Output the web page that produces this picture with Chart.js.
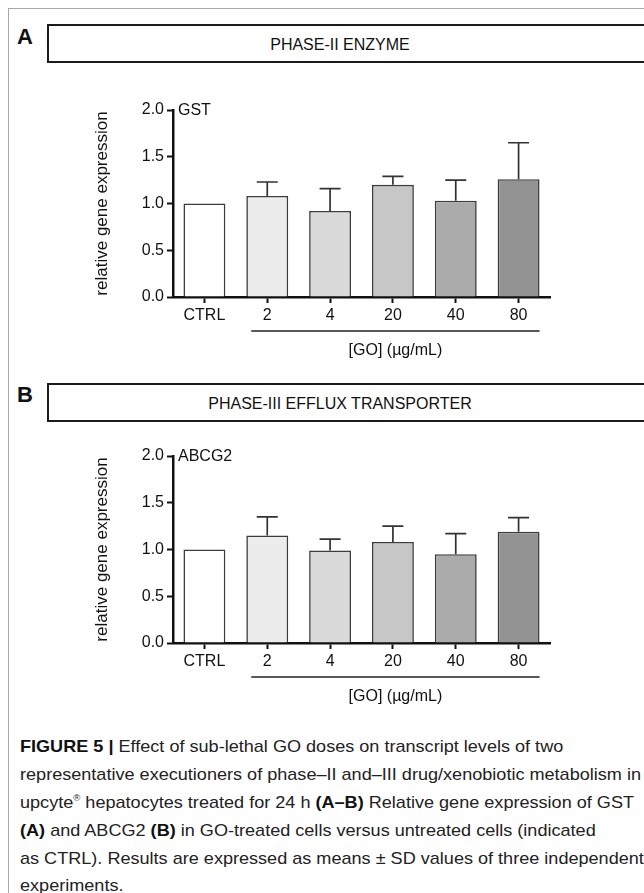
<!DOCTYPE html>
<html><head><meta charset="utf-8">
<script src="https://cdn.jsdelivr.net/npm/chart.js@4.4.1/dist/chart.umd.min.js"></script>
<style>
html,body{margin:0;padding:0;background:#fff;}
#page{position:relative;width:644px;height:893px;overflow:hidden;background:#fff;font-family:"Liberation Sans",Arial,Helvetica,sans-serif;color:#111;}
.frame{position:absolute;left:8px;top:8px;width:700px;height:900px;border-top:1.5px solid #a8a8a8;border-left:1.5px solid #a8a8a8;}
.plabel{position:absolute;font-weight:bold;font-size:22px;line-height:22px;}
.hbox{position:absolute;left:47px;width:640px;height:35px;border:2px solid #1b1b1b;}
.htext{position:absolute;font-size:16px;line-height:16px;white-space:nowrap;transform:translateX(-50%);}
canvas{position:absolute;left:0;}
.cap{position:absolute;left:20px;font-size:17px;line-height:20px;white-space:nowrap;transform-origin:0 0;color:#222;}
.cap b{color:#111;}
.cap sup{font-size:9px;vertical-align:7px;line-height:0;}
</style></head>
<body>
<div id="page">
  <div class="frame"></div>
  <div class="plabel" style="left:17px;top:26px;">A</div>
  <div class="hbox" style="top:24px;"></div>
  <div class="htext" style="left:340px;top:37px;">PHASE-II ENZYME</div>
  <canvas id="chartA" width="644" height="280" style="top:90px;"></canvas>

  <div class="plabel" style="left:17px;top:384px;">B</div>
  <div class="hbox" style="top:383px;"></div>
  <div class="htext" style="left:340px;top:396px;">PHASE-III EFFLUX TRANSPORTER</div>
  <canvas id="chartB" width="644" height="280" style="top:436px;"></canvas>

  <div class="cap" style="top:737px;" id="cap1"><b>FIGURE 5 |</b> Effect of sub-lethal GO doses on transcript levels of two</div>
  <div class="cap" style="top:765px;" id="cap2">representative executioners of phase–II and–III drug/xenobiotic metabolism in</div>
  <div class="cap" style="top:793px;">upcyte<sup>®</sup> hepatocytes treated for 24 h <b>(A–B)</b> Relative gene expression of GST</div>
  <div class="cap" style="top:821px;"><b>(A)</b> and ABCG2 <b>(B)</b> in GO-treated cells versus untreated cells (indicated</div>
  <div class="cap" style="top:849px;">as CTRL). Results are expressed as means ± SD values of three independent</div>
  <div class="cap" style="top:876px;">experiments.</div>
</div>
<script>
const FONT = '"Liberation Sans", Arial, Helvetica, sans-serif';
const categories = ['CTRL', '2', '4', '20', '40', '80'];
const yTicks = [0, 0.5, 1.0, 1.5, 2.0];
const gstMean = [1.00, 1.08, 0.92, 1.20, 1.03, 1.26];
const gstSD   = [0,    0.15, 0.24, 0.09, 0.22, 0.39];
const abcMean = [1.00, 1.15, 0.99, 1.08, 0.95, 1.19];
const abcSD   = [0,    0.20, 0.12, 0.17, 0.22, 0.15];
const barColors = ['#ffffff', '#ececec', '#dadada', '#c7c7c7', '#ababab', '#939393'];
const groupLabel = '[GO] (µg/mL)';

const errPlugin = {
  id: 'errbars',
  afterDatasetsDraw(chart) {
    const ctx = chart.ctx, meta = chart.getDatasetMeta(0), ds = chart.data.datasets[0], ys = chart.scales.y;
    ctx.save();
    ctx.strokeStyle = '#333'; ctx.lineWidth = 1.7;
    meta.data.forEach((bar, i) => {
      const sd = ds.sd[i];
      if (!sd) return;
      const x = bar.x, y0 = ys.getPixelForValue(ds.data[i]), y1 = ys.getPixelForValue(ds.data[i] + sd);
      ctx.beginPath();
      ctx.moveTo(x, y0); ctx.lineTo(x, y1);
      ctx.moveTo(x - 10.5, y1); ctx.lineTo(x + 10.5, y1);
      ctx.stroke();
    });
    ctx.restore();
  }
};
const labelPlugin = {
  id: 'labels',
  afterDraw(chart) {
    const ctx = chart.ctx, xs = chart.scales.x, ys = chart.scales.y, ca = chart.chartArea;
    const opts = chart.options.plugins.labels;
    ctx.save();
    ctx.fillStyle = '#111';
    ctx.font = '16px ' + FONT;
    ctx.textBaseline = 'middle'; ctx.textAlign = 'left';
    ctx.fillText(opts.gene, ca.left + 5, ys.getPixelForValue(2) + 1);
    const x1 = xs.getPixelForValue(1) - 16, x2 = xs.getPixelForValue(5) + 21;
    const yl = ca.bottom + 34;
    ctx.strokeStyle = '#222'; ctx.lineWidth = 1.3;
    ctx.beginPath(); ctx.moveTo(x1, yl); ctx.lineTo(x2, yl); ctx.stroke();
    ctx.textAlign = 'center';
    ctx.fillText(groupLabel, (x1 + x2) / 2, yl + 20);
    ctx.restore();
  }
};

function makeChart(id, means, sds, gene) {
  return new Chart(document.getElementById(id), {
    type: 'bar',
    data: { labels: categories, datasets: [{ data: means, sd: sds, backgroundColor: barColors, borderColor: '#3c3c3c', borderWidth: 1.6, barPercentage: 0.667, categoryPercentage: 1 }] },
    options: {
      responsive: false, animation: false, devicePixelRatio: 1,
      layout: { padding: { left: 0, right: 94, top: 20, bottom: 0 } },
      plugins: { legend: { display: false }, tooltip: { enabled: false }, labels: { gene: gene } },
      scales: {
        x: {
          grid: { display: true, drawOnChartArea: false, drawTicks: true, tickLength: 6, tickWidth: 2, tickColor: '#111', offset: false },
          border: { display: true, color: '#111', width: 2.5 },
          ticks: { color: '#111', font: { size: 16, family: FONT }, padding: 3, maxRotation: 0, autoSkip: false },
          afterFit(s) { s.height = 73; }
        },
        y: {
          min: 0, max: 2,
          afterBuildTicks(s) { s.ticks = yTicks.map(v => ({ value: v })); },
          ticks: { callback: v => Number(v).toFixed(1), color: '#111', font: { size: 16, family: FONT }, padding: 3 },
          grid: { drawOnChartArea: false, drawTicks: true, tickLength: 6, tickWidth: 2, tickColor: '#111' },
          border: { display: true, color: '#111', width: 2.5 },
          title: { display: true, text: 'relative gene expression', color: '#111', font: { size: 17, family: FONT }, padding: { top: 92, bottom: 0 } },
          afterFit(s) { s.width = 173; }
        }
      }
    },
    plugins: [errPlugin, labelPlugin]
  });
}
makeChart('chartA', gstMean, gstSD, 'GST');
makeChart('chartB', abcMean, abcSD, 'ABCG2');

// fit caption horizontally to the reference line width
const ref = document.getElementById('cap2');
const k = 621 / ref.getBoundingClientRect().width;
document.querySelectorAll('.cap').forEach(el => { el.style.transform = 'scaleX(' + k + ')'; });
</script>
</body></html>
